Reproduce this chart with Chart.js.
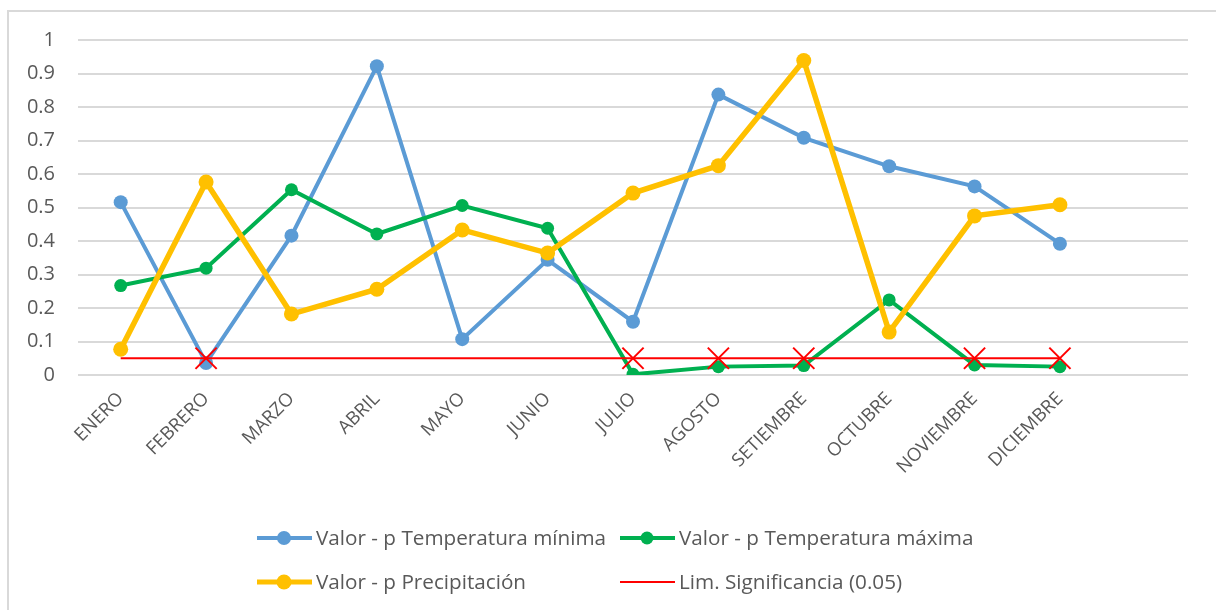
<!DOCTYPE html>
<html>
<head>
<meta charset="utf-8">
<script src="https://cdn.jsdelivr.net/npm/chart.js@4.4.1/dist/chart.umd.min.js"></script>
<style>
  html, body { margin: 0; padding: 0; background: #fff; }
  #wrap { position: relative; width: 1216px; height: 610px; overflow: hidden; }
  #frame { position: absolute; left: 7px; top: 10px; right: -4px; bottom: -4px;
           border-left: 2px solid #d9d9d9; border-top: 2px solid #d9d9d9; }
  canvas { position: absolute; left: 0; top: 0; }
</style>
</head>
<body>
<div id="wrap">
  <div id="frame"></div>
  <canvas id="grafico" width="1216" height="610"></canvas>
</div>
<script>
/* valores p por mes */

const meses = ["ENERO", "FEBRERO", "MARZO", "ABRIL", "MAYO", "JUNIO", "JULIO",
  "AGOSTO", "SETIEMBRE", "OCTUBRE", "NOVIEMBRE", "DICIEMBRE", ""];

const tempMinima = [0.516, 0.036, 0.416, 0.922, 0.107, 0.344, 0.159, 0.837, 0.708, 0.623, 0.563, 0.392];
const tempMaxima = [0.267, 0.319, 0.553, 0.421, 0.506, 0.438, 0.002, 0.025, 0.028, 0.224, 0.030, 0.025];
const precipitacion = [0.077, 0.576, 0.182, 0.256, 0.433, 0.364, 0.543, 0.625, 0.939, 0.128, 0.475, 0.508];
const limSignificancia = [0.05, 0.05, 0.05, 0.05, 0.05, 0.05, 0.05, 0.05, 0.05, 0.05, 0.05, 0.05];

const yTicks = [0, 0.1, 0.2, 0.3, 0.4, 0.5, 0.6, 0.7, 0.8, 0.9, 1];

const AZUL = "#5B9BD5", VERDE = "#00B050", AMARILLO = "#FFC000", ROJO = "#FF0000";
const TEXTO = "#595959";
const FUENTE = "'Open Sans', Lato, sans-serif";

// X sólo en los meses donde alguna serie queda bajo el límite
const marcaX = limSignificancia.map((lim, i) =>
  Math.min(tempMinima[i], tempMaxima[i], precipitacion[i]) < lim ? 15 : 0);

const leyenda = [
  { texto: "Valor - p Temperatura mínima", color: AZUL, ancho: 4, punto: 7, x: 257, y: 538 },
  { texto: "Valor - p Temperatura máxima", color: VERDE, ancho: 4, punto: 6.5, x: 620, y: 538 },
  { texto: "Valor - p Precipitación", color: AMARILLO, ancho: 5, punto: 7.5, x: 257, y: 582 },
  { texto: "Lim. Significancia (0.05)", color: ROJO, ancho: 2, punto: 0, x: 620, y: 582 }
];

const pluginLeyenda = {
  id: "leyendaExcel",
  afterDraw(chart) {
    const ctx = chart.ctx;
    ctx.save();
    leyenda.forEach(it => {
      ctx.strokeStyle = it.color;
      ctx.lineWidth = it.ancho;
      ctx.beginPath();
      ctx.moveTo(it.x, it.y);
      ctx.lineTo(it.x + 55, it.y);
      ctx.stroke();
      if (it.punto) {
        ctx.fillStyle = it.color;
        ctx.beginPath();
        ctx.arc(it.x + 27, it.y, it.punto, 0, Math.PI * 2);
        ctx.fill();
      }
      ctx.fillStyle = TEXTO;
      ctx.font = "20.7px " + FUENTE;
      ctx.textBaseline = "middle";
      ctx.textAlign = "left";
      ctx.fillText(it.texto, it.x + 59, it.y + 1);
    });
    ctx.restore();
  }
};

new Chart(document.getElementById("grafico"), {
  type: "line",
  data: {
    labels: meses,
    datasets: [
      { label: "Valor - p Temperatura mínima", data: tempMinima, borderColor: AZUL, backgroundColor: AZUL,
        borderWidth: 4, pointRadius: 7, pointBorderWidth: 0, order: 3 },
      { label: "Valor - p Temperatura máxima", data: tempMaxima, borderColor: VERDE, backgroundColor: VERDE,
        borderWidth: 4, pointRadius: 6.5, pointBorderWidth: 0, order: 2 },
      { label: "Valor - p Precipitación", data: precipitacion, borderColor: AMARILLO, backgroundColor: AMARILLO,
        borderWidth: 5.5, pointRadius: 7.5, pointBorderWidth: 0, order: 1 },
      { label: "Lim. Significancia (0.05)", data: limSignificancia, borderColor: ROJO, backgroundColor: ROJO,
        borderWidth: 2, pointStyle: "crossRot", pointRadius: marcaX, pointBorderWidth: 2,
        pointBorderColor: ROJO, order: 0 }
    ]
  },
  options: {
    responsive: false,
    animation: false,
    layout: { padding: { top: 40, right: 28, left: 0, bottom: 0 } },
    plugins: { legend: { display: false }, tooltip: { enabled: false } },
    elements: { line: { tension: 0 } },
    scales: {
      x: {
        offset: true,
        grid: { display: false },
        border: { display: false },
        ticks: { color: TEXTO, font: { family: FUENTE, size: 18.5 }, maxRotation: 45, minRotation: 45,
          autoSkip: false, padding: 5 },
        afterFit(s) { s.height = 235; }
      },
      y: {
        min: 0, max: 1,
        grid: { color: "#D9D9D9", lineWidth: 2, drawTicks: false },
        border: { display: false },
        afterBuildTicks(s) { s.ticks = yTicks.map(v => ({ value: v })); },
        ticks: { color: TEXTO, font: { family: FUENTE, size: 20 }, padding: 23,
          callback: v => String(v) },
        afterFit(s) { s.width = 78; }
      }
    }
  },
  plugins: [pluginLeyenda]
});
</script>
</body>
</html>
